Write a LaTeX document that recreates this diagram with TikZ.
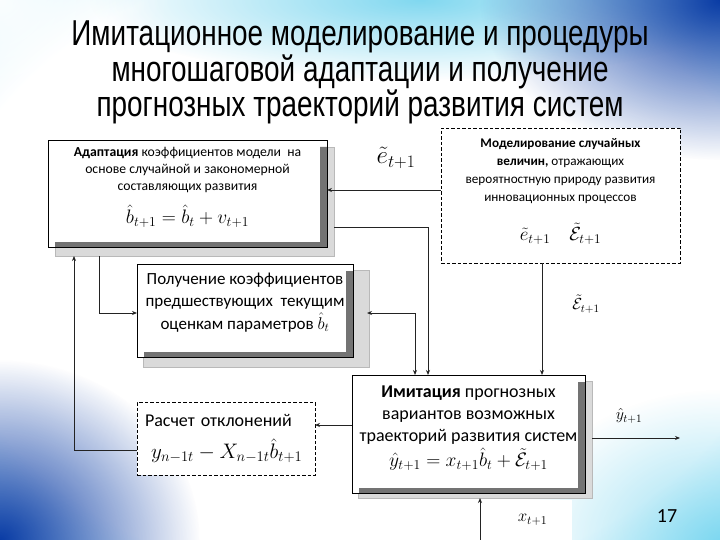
\documentclass[tikz,border=0pt]{standalone}
\usepackage{fix-cm}
\usepackage{fontspec}
\setmainfont{Carlito}
\newfontfamily\titlefont[FakeStretch=0.775]{Liberation Sans}
\usetikzlibrary{arrows.meta,calc,fadings}
\definecolor{bgdeep}{RGB}{10,60,165}
\definecolor{bgblue}{RGB}{20,115,205}
\definecolor{bgcyan}{RGB}{45,190,230}
\definecolor{bglight}{RGB}{185,236,250}
\definecolor{lineclr}{RGB}{35,35,35}
\definecolor{stripclr}{RGB}{115,115,115}
\definecolor{shadowfill}{RGB}{218,218,218}
\definecolor{shadowedge}{RGB}{185,185,185}
\pgfdeclareradialshading{slidebg}{\pgfpoint{0bp}{0bp}}{color(0bp)=(white); color(29bp)=(white); color(38bp)=(bglight); color(48bp)=(bgcyan); color(62bp)=(bgblue); color(72bp)=(bgdeep)}
\tikzfading[name=softspot, inner color=transparent!0, outer color=transparent!100]
\pgfdeclarelayer{bglayer}
\pgfdeclarelayer{shadowlayer}
\pgfsetlayers{bglayer,shadowlayer,main}
\newcommand\ShadowFrame[5]{%
  \begin{pgfonlayer}{shadowlayer}
    \draw[fill=shadowfill,draw=shadowedge,line width=0.6pt]
      ([xshift=#2pt,yshift=-#3pt]#1.north west) rectangle ([xshift=#4pt,yshift=-#5pt]#1.south east);
  \end{pgfonlayer}
  \fill[stripclr] ([xshift=-7pt,yshift=-7pt]#1.north east) -- ([yshift=-7pt]#1.north east) -- (#1.south east)
    -- ([xshift=7pt]#1.south west) -- ([xshift=7pt,yshift=5pt]#1.south west) -- ([xshift=-7pt,yshift=5pt]#1.south east) -- cycle;
  \draw[black,line width=0.9pt] (#1.north west) rectangle (#1.south east);
}
\begin{document}
\begin{tikzpicture}[x=1pt,y=-1pt,
  shadowbox/.style={draw=black,line width=0.9pt,fill=white,outer sep=0pt,inner sep=3pt,align=center},
  dashbox/.style={draw=black,line width=0.8pt,dash pattern=on 3.5pt off 2pt,fill=white,outer sep=0pt,inner sep=3pt},
  conn/.style={draw=lineclr,line width=0.9pt},
  arr/.style={conn,-{Stealth[length=5pt,width=4pt]}},
  darr/.style={conn,{Stealth[length=5pt,width=4pt]}-{Stealth[length=5pt,width=4pt]}},
  lbl/.style={inner sep=1pt}]
\useasboundingbox (0,0) rectangle (720,540);
\begin{pgfonlayer}{bglayer}
  \shade[shading=slidebg] (0,0) rectangle (720,540);
  \fill[bgcyan,opacity=0.6,path fading=softspot] (420,0) ellipse (330 and 80);
  \fill[bgdeep,path fading=softspot] (720,0) ellipse (240 and 160);
  \fill[bgdeep,path fading=softspot] (0,540) ellipse (200 and 180);
  \fill[white,opacity=0.9,path fading=softspot] (0,0) circle (170);
  \fill[bgcyan,opacity=0.5,path fading=softspot] (720,540) ellipse (200 and 150);
\end{pgfonlayer}

% title
\node[anchor=north,align=center,inner sep=0pt,font=\titlefont\fontsize{36}{33.5}\selectfont] (title) at (360,21)
  {Имитационное моделирование и процедуры\\многошаговой адаптации и получение\\прогнозных траекторий развития систем};

% boxes
\node[shadowbox,font=\fontsize{13.7}{17}\selectfont,minimum width=279pt,minimum height=107pt] (A) at (187.5,193.5)
  {{\bfseries Адаптация} коэффициентов модели~ на\\основе случайной и закономерной\\составляющих развития\\[11pt]
   {\fontsize{19.5}{21}\selectfont $\hat{b}_{t+1}=\hat{b}_t+v_{t+1}$}\\[-1pt]};
\ShadowFrame{A}{7}{7}{7}{9}

\node[dashbox,font=\fontsize{13.2}{18}\selectfont,align=center,minimum width=239pt,minimum height=135pt] (B) at (560.5,195.5)
  {{\bfseries Моделирование случайных}\\{\bfseries величин,} отражающих\\вероятностную природу развития\\инновационных процессов\\[18pt]
   {\fontsize{19}{20}\selectfont $\tilde{e}_{t+1}\quad\tilde{\mathcal{E}}_{t+1}$}\hspace*{8pt}\\[-6pt]};

\node[shadowbox,font=\fontsize{17}{22.5}\selectfont,minimum width=216pt,minimum height=93pt] (C) at (245,310.5)
  {Получение коэффициентов\\предшествующих~ текущим\\оценкам параметров $\hat{b}_t$\\[-3.5pt]};
\ShadowFrame{C}{6}{6}{16}{10}

\node[shadowbox,font=\fontsize{18}{22}\selectfont,minimum width=233pt,minimum height=118pt] (D) at (468.5,434)
  {{\bfseries Имитация} прогнозных\\вариантов возможных\\траекторий развития систем\\[3pt]
   {\fontsize{19.5}{21}\selectfont $\hat{y}_{t+1}=x_{t+1}\hat{b}_t+\tilde{\mathcal{E}}_{t+1}$}\\[-6pt]};
\ShadowFrame{D}{6}{6}{7}{5}

\node[dashbox,font=\fontsize{18}{22.5}\selectfont,align=left,text width=162pt,inner xsep=8pt,minimum height=73pt] (E) at (226,438.5)
  {Расчет отклонений\\[10pt]\hspace*{6pt}{\fontsize{21}{22}\selectfont $y_{n-1t}-X_{n-1t}\hat{b}_{t+1}$}};

\node[fill=white,inner sep=0pt,minimum width=79pt,minimum height=40pt,font=\fontsize{17}{19}\selectfont] (F) at (532.5,520)
  {$x_{t+1}$};

% labels
\node[lbl,font=\fontsize{25}{27}\selectfont] (le) at (396,158) {$\tilde{e}_{t+1}$};
\node[lbl,font=\fontsize{16}{18}\selectfont] (leps) at (586,304) {$\tilde{\mathcal{E}}_{t+1}$};
\node[lbl,font=\fontsize{16}{18}\selectfont] (ly) at (629,416) {$\hat{y}_{t+1}$};
\node[lbl,font=\fontsize{20}{22}\selectfont] (pg) at (667,516) {17};

% connectors
\draw[arr] (B.west |- 0,190) -- (A.east |- 0,190);
\draw[arr] ([xshift=7pt]A.east |- 0,227) -| (D.north -| 428,0);
\draw[darr] (D.north -| 415,0) |- ([xshift=14pt]C.east |- 0,313);
\draw[arr] (B.south -| 542,0) -- (D.north -| 542,0);
\draw[arr] ([yshift=-9pt]A.south -| 99,0) |- (C.west |- 0,313);
\draw[arr] (E.west |- 0,450) -| ([yshift=-9pt]A.south -| 74,0);
\draw[arr] (D.west |- 0,425) -- (E.east |- 0,425);
\coordinate (yout) at (680,438);
\draw[arr] ([xshift=7pt]D.east |- 0,438) -- (yout);
\coordinate (xin) at (480,540);
\draw[arr] (xin) -- ([yshift=-5pt]D.south -| 480,0);
\end{tikzpicture}
\end{document}
